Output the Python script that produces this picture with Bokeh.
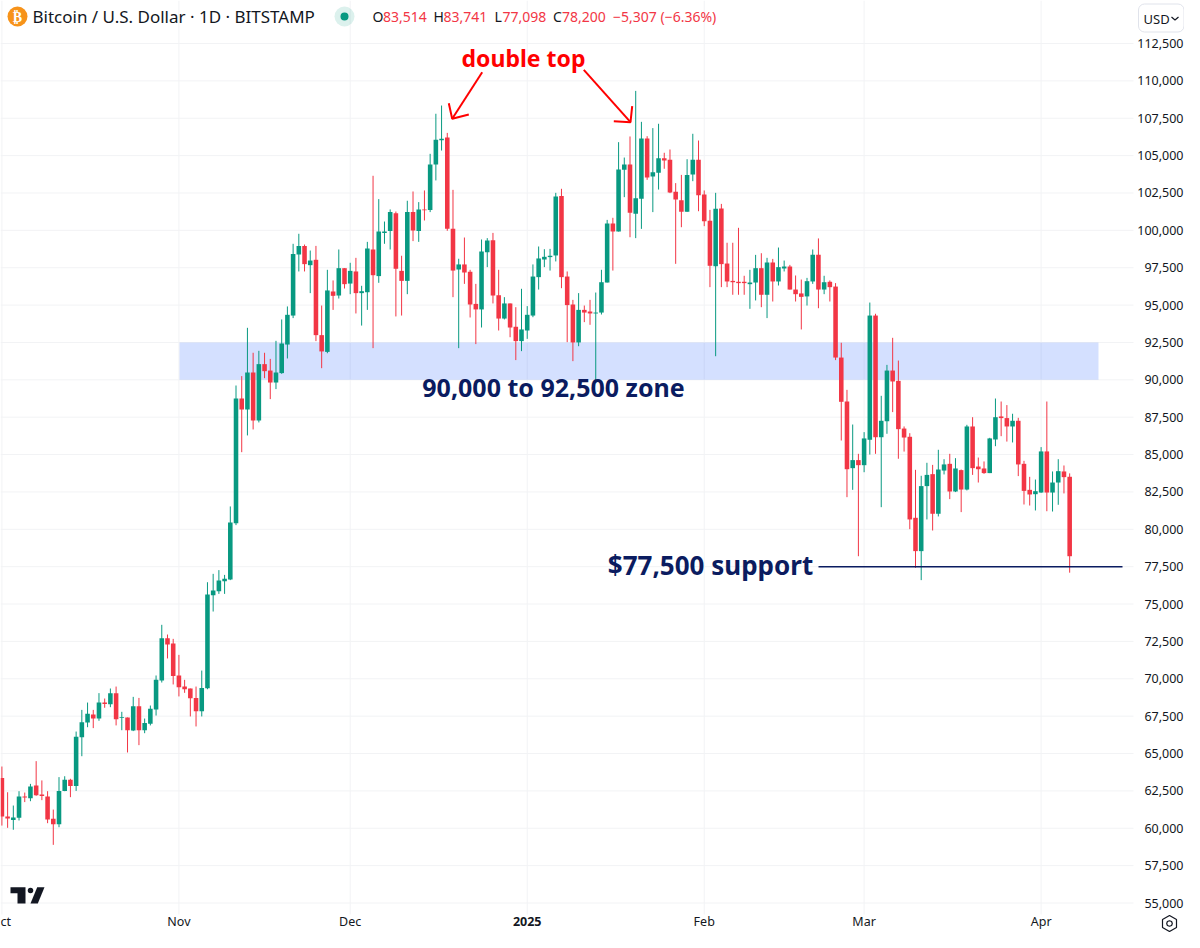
from bokeh.embed import file_html
from bokeh.resources import INLINE
from bokeh.plotting import figure
from bokeh.models import ColumnDataSource, Range1d, Label, BoxAnnotation, PolyAnnotation
import pandas as pd

first_day = "2024-10-01"

opens = [
63370,60790,60560,60700,62120,62010,62860,62260,62120,60630,
60270,62500,63240,62820,66090,67080,67610,67340,68410,68300,
69040,67370,67410,66540,68170,66560,66990,67950,69890,72720,
72360,70220,69480,69350,68720,67830,69370,75590,75860,76530,
76640,80410,88750,88020,90490,87280,91050,90620,89820,90450,
92360,94300,98380,98960,97670,98030,92990,91870,95910,95640,
97470,96440,97250,95800,95860,98720,96940,99830,99950,101150,
97290,96620,101220,99950,101400,101370,104410,106030,106210,100100,
97380,97720,97230,95080,94710,98540,99340,95660,94100,95110,
93550,92590,93300,94300,96870,98050,98210,98320,102290,96910,
95040,92500,94680,94570,94440,94500,96510,100460,99920,104050,
104410,101110,102110,106150,103600,103850,104830,104720,102580,102020,
101240,103740,104720,102400,100640,97600,101460,97780,96620,96560,
96560,96400,96510,97470,95690,97850,96580,97450,97580,96040,
95780,95580,96580,98360,96040,96560,96240,91490,88550,84090,
84630,84290,85990,94300,86160,87230,90620,89930,86740,86190,
80770,78540,82890,83690,81040,83930,84380,82530,83960,82660,
86880,84200,84070,83760,86010,87550,87440,86880,87260,84380,
82640,82350,82460,85210,82460,83130,83870,83514]

highs = [
64130,62410,61520,62480,62390,62970,64490,63200,62480,61250,
63420,63480,63310,66470,67920,68410,67920,69040,68680,69350,
69480,67790,67410,68790,68720,67340,68210,70220,73610,72960,
72670,71600,69930,69350,69480,70550,76460,77020,77270,76950,
81530,89620,90250,93480,91810,91940,91810,91400,92610,94040,
94910,99100,99770,99050,98650,98960,94970,97360,96650,98720,
97470,97830,98160,96290,99230,103650,102090,100590,101400,101260,
98300,101980,102600,101890,102670,105120,107800,108350,106520,102710,
98100,99520,97360,96420,99390,99480,99830,97360,95530,95110,
94860,96090,94930,97720,98920,98740,98760,102510,102780,97250,
95350,95800,94970,95350,95840,97360,100700,100840,105900,104870,
106280,109330,107260,106300,106840,107130,105190,105410,103160,103710,
104760,106460,106010,102670,101370,102510,101770,99170,99170,100170,
96960,97360,98360,98470,98160,98090,98850,97980,97690,96980,
96710,96820,98720,99460,96960,96650,96470,92480,89330,87010,
85050,86500,95170,94420,88930,91000,92810,91290,86880,86430,
83980,83580,84450,84310,85320,84690,85050,84760,84000,86990,
87500,84800,84540,86120,88750,88550,88310,87730,87460,84580,
83510,83330,85500,88550,83870,84690,84270,83741]

lows = [
60180,60030,59900,60520,61750,61810,62170,61880,60340,58890,
60070,62480,62080,62500,64820,66760,66700,67190,68060,68100,
66880,66560,65070,66500,65560,66360,66880,67540,69750,71360,
69620,68820,69060,67480,66810,67480,69300,74500,75680,75680,
76600,80280,85160,86280,86680,87150,90110,88710,89380,90400,
91430,94130,97250,97250,95800,92590,90780,91780,94680,95440,
96110,95730,94440,93630,94680,92120,96490,99100,98720,94240,
94300,95730,99280,99230,100660,101220,103340,105340,99970,95530,
92120,96420,94170,92390,93500,97540,95110,93300,94040,92850,
91320,91920,92740,94190,96040,97540,97310,97920,96130,92520,
91250,92250,93860,93680,89800,94370,96510,97310,99920,102220,
99540,99480,100100,103380,101220,102730,104120,102490,97760,100210,
101240,103290,101280,100280,96200,91580,96200,96200,95690,95690,
95690,94750,95310,94860,94130,95240,96310,97250,96040,95240,
93370,94970,96420,94790,95730,95240,91320,85940,82150,82640,
78200,83820,85000,85050,81480,86390,87840,84720,85200,80010,
77420,76600,80660,79920,80860,83670,82020,82490,81150,82600,
83640,83130,83710,83760,85560,86230,85870,85810,83560,81660,
81590,81260,82440,81210,81190,81640,82400,77098]

closes = [
60790,60650,60720,62120,62060,62790,62210,62150,60590,60270,
62500,63240,62820,66120,67100,67660,67340,68410,68320,69040,
67300,67430,66560,68170,66560,67050,67990,69930,72720,72290,
70180,69440,69300,68700,67830,69390,75640,75910,76580,76690,
80460,88750,88020,90490,87280,91050,90580,89820,90490,92430,
94350,98410,98960,97740,97980,92990,91900,95980,95620,97470,
96400,97290,95800,95930,98790,97000,99920,99920,101220,97430,
96620,101220,99990,101400,101350,104410,106060,106120,100100,97310,
97720,97180,95040,94710,98590,99320,95640,94100,95110,93500,
92590,93370,94350,96910,98120,98230,98300,102270,96870,95000,
92500,94680,94500,94440,94500,96530,100460,99920,104070,104410,
101170,102150,106150,103540,103890,104830,104670,102530,102060,101240,
103710,104720,102350,100610,97630,101440,97740,96580,96530,96470,
96470,96510,97470,95690,97850,96580,97540,97580,96040,95730,
95550,96600,98360,96040,96530,96200,91490,88530,84020,84630,
84290,86080,94300,86160,87260,90620,89890,86700,86140,80660,
78540,82890,83640,81040,84000,84340,82530,84070,82660,86880,
84090,84020,83760,86080,87500,87440,86880,87260,84340,82570,
82330,82550,85210,82460,83130,83890,83490,78200]

month_ticks = ["2024-10-01", "2024-11-01", "2024-12-01", "2025-01-01", "2025-02-01", "2025-03-01", "2025-04-01"]
month_labels = ["ct", "Nov", "Dec", "2025", "Feb", "Mar", "Apr"]
price_ticks = list(range(55000, 115000, 2500))

UP, DOWN = "#089981", "#F23645"
NAVY = "#0B1C60"
RED = "#FF0000"
INK = "#131722"
GRID = "#F2F3F5"
FONT = "Noto Sans"

DAY = 86400000
to_ms = lambda s: int(pd.Timestamp(s).value // 1000000)
T0 = to_ms(first_day)
def X(px): return T0 + (px - 1.4) / 5.71 * DAY
def Y(py): return 55000 + (902.5 - py) * 66.9

dates = [T0 + i * DAY for i in range(len(opens))]
colors = [UP if c >= o else DOWN for o, c in zip(opens, closes)]
source = ColumnDataSource(dict(
    date=dates, open=opens, high=highs, low=lows, close=closes,
    top=[max(o, c) for o, c in zip(opens, closes)],
    bottom=[min(o, c) for o, c in zip(opens, closes)],
    color=colors))

p = figure(width=1184, height=932, output_backend="svg", toolbar_location=None,
           x_axis_location=None, y_axis_location=None,
           x_range=Range1d(X(0), X(1184)), y_range=Range1d(Y(932), Y(0)),
           min_border=0, background_fill_color="white", border_fill_color="white",
           outline_line_color=None)
p.grid.visible = False

tick_ms = [to_ms(d) for d in month_ticks]

# grid, ending where the price and time scales begin
p.segment(x0=tick_ms, x1=tick_ms, y0=[Y(0)] * len(tick_ms), y1=[Y(914)] * len(tick_ms),
          line_color=GRID, line_width=1)
p.segment(x0=[X(0)] * len(price_ticks), x1=[X(1133)] * len(price_ticks), y0=price_ticks, y1=price_ticks,
          line_color=GRID, line_width=1)

# zone under the candles
p.quad(left=[X(179)], right=[X(1098)], bottom=[90000], top=[92500],
       fill_color="#2962FF", fill_alpha=0.2, line_color=None)

# candles
p.segment("date", "high", "date", "low", source=source, color="color", line_width=1)
p.vbar(x="date", top="top", bottom="bottom", width=0.8 * DAY, source=source,
       fill_color="color", line_color=None)

# support drawing
p.line([X(818), X(1122)], [77500, 77500], line_color=NAVY, line_width=1.6)

# hand-drawn arrows
arrows_px = [
    [(481.7, 71.7), (451.7, 118.3)], [(448.3, 102.7), (451.7, 118.3), (468.3, 114)],
    [(583.3, 69.3), (630, 121.7)], [(631.7, 105.7), (630, 121.7), (613.3, 120.7)],
]
p.multi_line([[X(a) for a, _ in s] for s in arrows_px], [[Y(b) for _, b in s] for s in arrows_px],
             line_color=RED, line_width=2)

def label_at(txt, x, y, size, color=INK, align="left", style="normal", font=FONT):
    p.add_layout(Label(x=x, y=y, text=txt, text_font=font, text_font_size=f"{size}px",
                       text_color=color, text_align=align, text_baseline="middle",
                       text_font_style=style))

def text(txt, px, py, size, color=INK, align="left", style="normal", font=FONT):
    label_at(txt, X(px), Y(py), size, color, align, style, font)

# price scale
for tick in price_ticks:
    label_at(f"{tick:,}", X(1183), tick, 12.5, INK, "right")

# time scale
for ms, lab in zip(tick_ms, month_labels):
    if lab == "ct":
        label_at(lab, X(0), Y(921), 12.5)
    else:
        label_at(lab, ms, Y(921), 12.5, INK, "center", "bold" if lab == "2025" else "normal")

text("double top", 523, 57, 23, RED, "center", "bold")
text("90,000 to 92,500 zone", 553, 386, 25, NAVY, "center", "bold")
text("$77,500 support", 710, 564, 26, NAVY, "center", "bold")

# legend row
p.scatter([X(17)], [Y(16)], size=20, color="#F7931A", line_color=None)
text("\u20bf", 17, 16, 14, "white", "center", "bold", "DejaVu Sans")
text("Bitcoin / U.S. Dollar \u00b7 1D \u00b7 BITSTAMP", 32, 16, 17)
p.scatter([X(344)], [Y(16)], size=20, color=UP, fill_alpha=0.14, line_color=None)
p.scatter([X(344)], [Y(16)], size=8, color=UP, line_color=None)
for letter, value, lx, vx in [("O", "83,514", 372, 382.5), ("H", "83,741", 433, 443),
                              ("L", "77,098", 494, 502), ("C", "78,200", 552.5, 561.5)]:
    text(letter, lx, 16, 14)
    text(value, vx, 16, 14, DOWN)
text("\u22125,307 (\u22126.36%)", 612.5, 16, 14, DOWN)

# currency button
p.add_layout(BoxAnnotation(left=X(1138), right=X(1183.5), top=Y(3.5), bottom=Y(31.5), fill_color="white",
                           fill_alpha=1, line_color="#E0E3EB", line_alpha=1, line_width=1, border_radius=6))
text("USD", 1143, 18, 13)
chev = [(1171, 16.5), (1174.5, 19.5), (1178, 16.5), (1174.5, 19.5)]
p.add_layout(PolyAnnotation(xs=[X(a) for a, _ in chev], ys=[Y(b) for _, b in chev], fill_alpha=0,
                            line_color=INK, line_alpha=1, line_width=1.2))

# settings icon
hex_pts = [(1169, 915), (1176, 919), (1176, 927), (1169, 931), (1162, 927), (1162, 919)]
p.add_layout(PolyAnnotation(xs=[X(a) for a, _ in hex_pts], ys=[Y(b) for _, b in hex_pts], fill_alpha=0,
                            line_color=INK, line_alpha=1, line_width=1.2))
ring = [(1169, 920.2), (1171.1, 921), (1171.8, 923), (1171.1, 925), (1169, 925.8),
        (1166.9, 925), (1166.2, 923), (1166.9, 921)]
p.add_layout(PolyAnnotation(xs=[X(a) for a, _ in ring], ys=[Y(b) for _, b in ring], fill_alpha=0,
                            line_color=INK, line_alpha=1, line_width=1.2))

# TradingView mark
logo_bar = [(10, 886.7), (25, 886.7), (25, 903), (17, 903), (17, 892.7), (10, 892.7)]
logo_slash = [(36.7, 886.7), (44, 886.7), (37.3, 903), (30, 903)]
p.patches([[X(a) for a, _ in s] for s in (logo_bar, logo_slash)],
          [[Y(b) for _, b in s] for s in (logo_bar, logo_slash)], fill_color="#131722", line_color=None)
p.scatter([X(30)], [Y(890)], size=5.5, color="#131722", line_color=None)

open("out.html", "w").write(file_html(p, INLINE))
